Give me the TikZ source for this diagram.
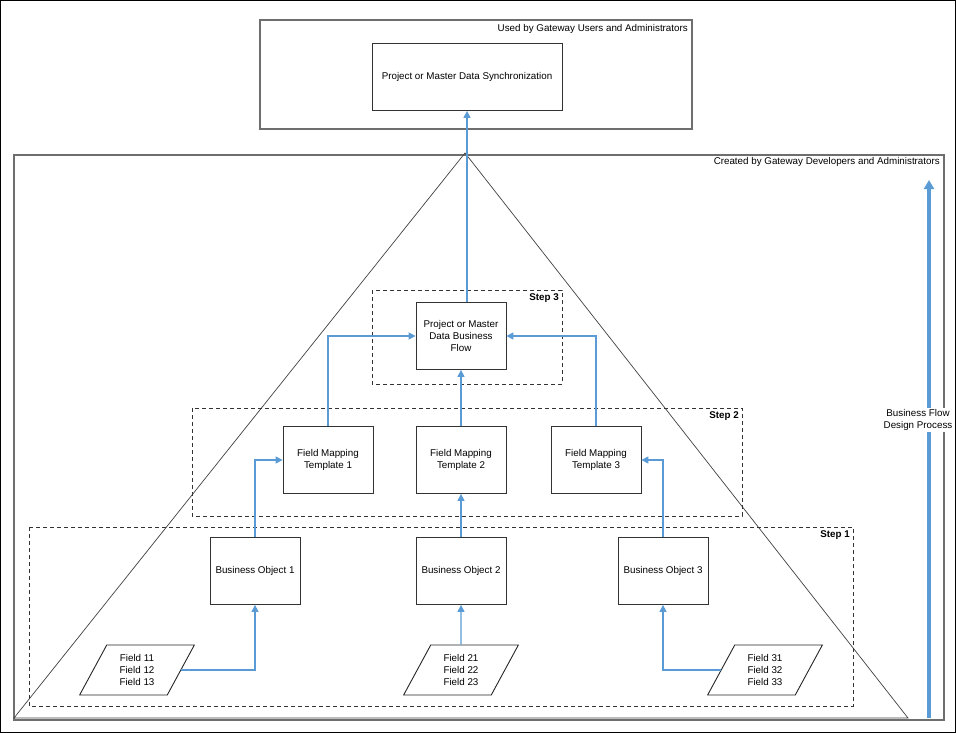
\documentclass[tikz,border=0pt]{standalone}
\usepackage{fontspec}
\setmainfont{Liberation Sans}
\usetikzlibrary{arrows.meta,shapes.geometric}

\definecolor{flowblue}{RGB}{91,155,213}
\definecolor{framegray}{RGB}{110,110,110}

\begin{document}
\begin{tikzpicture}[x=1pt, y=-1pt,
                    font=\fontsize{9.8}{12}\selectfont,
                    box/.style={draw=black!80, line width=0.8pt, fill=white, align=center, inner sep=0,
                                minimum width=90pt, minimum height=67pt},
                    field/.style={draw=black!85, line width=0.9pt, fill=white, align=center, inner sep=0,
                                  trapezium, trapezium left angle=63.4, trapezium right angle=116.6,
                                  trapezium stretches=true, minimum width=115pt, minimum height=50pt},
                    stepframe/.style={draw=black!80, line width=0.8pt, dash pattern=on 4pt off 3pt},
                    steplabel/.style={anchor=north east, inner sep=2pt, font=\fontsize{9.8}{12}\selectfont\bfseries},
                    flow/.style={draw=flowblue, line width=1.4pt, -{Triangle[length=7pt,width=7pt]}}]
    \useasboundingbox (0,0) rectangle (956,733);
    \draw [line width=1pt] (0.5,0.5) rectangle (955.5,732.5);

    % frames
    \draw [framegray, line width=1.2pt] (260,20) rectangle (692,129);
    \node (used) [anchor=north east, inner sep=2pt] at (690,22) {Used by Gateway Users and Administrators};
    \draw [framegray, line width=1.2pt] (14,155) rectangle (944,720);
    \node (created) [anchor=north east, inner sep=2pt] at (942,155) {Created by Gateway Developers and Administrators};

    \draw [black!75, line width=0.7pt] (465,153) -- (14,718) -- (908,718) -- cycle;

    \draw [stepframe] (372,290) rectangle (562,384);
    \node (s3) [steplabel] at (561,291) {Step 3};
    \draw [stepframe] (192,408) rectangle (742,516);
    \node (s2) [steplabel] at (741,409) {Step 2};
    \draw [stepframe] (29,527) rectangle (853,706);
    \node (s1) [steplabel] at (852,528) {Step 1};

    % nodes
    \node (sync) [box, minimum width=190pt] at (467,77) {Project or Master Data Synchronization};
    \node (bf) [box] at (461,336) {Project or Master\\Data Business\\Flow};

    \node (fm1) [box] at (328,460) {Field Mapping\\Template 1};
    \node (fm2) [box] at (461,460) {Field Mapping\\Template 2};
    \node (fm3) [box] at (596,460) {Field Mapping\\Template 3};

    \node (bo1) [box] at (255,571) {Business Object 1};
    \node (bo2) [box] at (461,571) {Business Object 2};
    \node (bo3) [box] at (663,571) {Business Object 3};

    \node (f1) [field] at (137,670) {Field 11\\Field 12\\Field 13};
    \node (f2) [field] at (461,670) {Field 21\\Field 22\\Field 23};
    \node (f3) [field] at (765,670) {Field 31\\Field 32\\Field 33};

    % connectors
    \draw [flow] (f1.right side) -| (bo1.south);
    \draw [flow] (f2.north) -- (bo2.south);
    \draw [flow] (f3.left side) -| (bo3.south);

    \draw [flow] (bo1.north) |- (fm1.west);
    \draw [flow] (bo2.north) -- (fm2.south);
    \draw [flow] (bo3.north) |- (fm3.east);

    \draw [flow] (fm1.north) |- (bf.west);
    \draw [flow] (fm2.north) -- (bf.south);
    \draw [flow] (fm3.north) |- (bf.east);

    \draw [flow] (bf.north -| sync.south) -- (sync.south);

    \coordinate (pbot) at (929,718);
    \coordinate (ptop) at (929,180);
    \draw [draw=flowblue, line width=4pt, -{Triangle[length=9pt,width=10pt]}] (pbot) -- (ptop);
    \node (process) [fill=white, align=center, inner sep=1pt] at (918,420) {Business Flow\\Design Process};
\end{tikzpicture}
\end{document}
